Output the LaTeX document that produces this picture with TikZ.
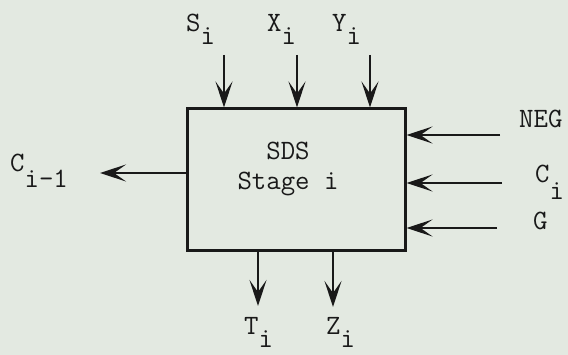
\documentclass[tikz,border=0pt]{standalone}
\usetikzlibrary{arrows.meta}
\definecolor{bg}{RGB}{227,233,225}
\definecolor{ink}{RGB}{25,25,25}
\newcommand{\dn}[2][15pt]{\raisebox{-#1}{#2}}
\begin{document}
\begin{tikzpicture}[x=1pt,y=-1pt,
  txt/.style={font=\fontsize{28}{30}\selectfont\ttfamily, text=ink, inner sep=0pt, anchor=base west},
  wire/.style={draw=ink, line width=2.8pt, -{Stealth[length=26pt,width=17pt,inset=12pt]}},
  stagebox/.style={draw=ink, line width=3pt, minimum width=218pt, minimum height=142pt, inner sep=0pt}]
\fill[bg] (0,0) rectangle (568,355);
\useasboundingbox (0,0) rectangle (568,355);
\node[stagebox] (box) at (296,180) {};
\node[txt, anchor=base] (sds) at (288,160) {SDS};
\node[txt, anchor=base] (stage) at (288,190) {Stage i};
% top inputs
\coordinate (sIn) at (224,55);
\coordinate (xIn) at (297,55);
\coordinate (yIn) at (370,55);
\draw[wire] (sIn) -- (sIn |- box.north);
\draw[wire] (xIn) -- (xIn |- box.north);
\draw[wire] (yIn) -- (yIn |- box.north);
\node[txt] (sl) at (186,32) {S\dn[13pt]{i}};
\node[txt] (xl) at (267,32) {X\dn[13pt]{i}};
\node[txt] (yl) at (332,32) {Y\dn[13pt]{i}};
% left output
\coordinate (cOut) at (100,173);
\draw[wire] (box.west |- cOut) -- (cOut);
\node[txt] (cl) at (10,172) {C\dn[16pt]{i-1}};
% right inputs
\coordinate (negIn) at (500,135);
\coordinate (cIn) at (502,183);
\coordinate (gIn) at (497,228);
\draw[wire] (negIn) -- (negIn -| box.east);
\draw[wire] (cIn) -- (cIn -| box.east);
\draw[wire] (gIn) -- (gIn -| box.east);
\node[txt] (negl) at (519,128) {NEG};
\node[txt] (cil) at (535,183) {C\dn[17pt]{i}};
\node[txt] (gl) at (533,230) {G};
% bottom outputs
\coordinate (tOut) at (258,306);
\coordinate (zOut) at (333,307);
\draw[wire] (tOut |- box.south) -- (tOut);
\draw[wire] (zOut |- box.south) -- (zOut);
\node[txt] (tl) at (244,335) {T\dn[13pt]{i}};
\node[txt] (zl) at (326,335) {Z\dn[13pt]{i}};
\end{tikzpicture}
\end{document}
